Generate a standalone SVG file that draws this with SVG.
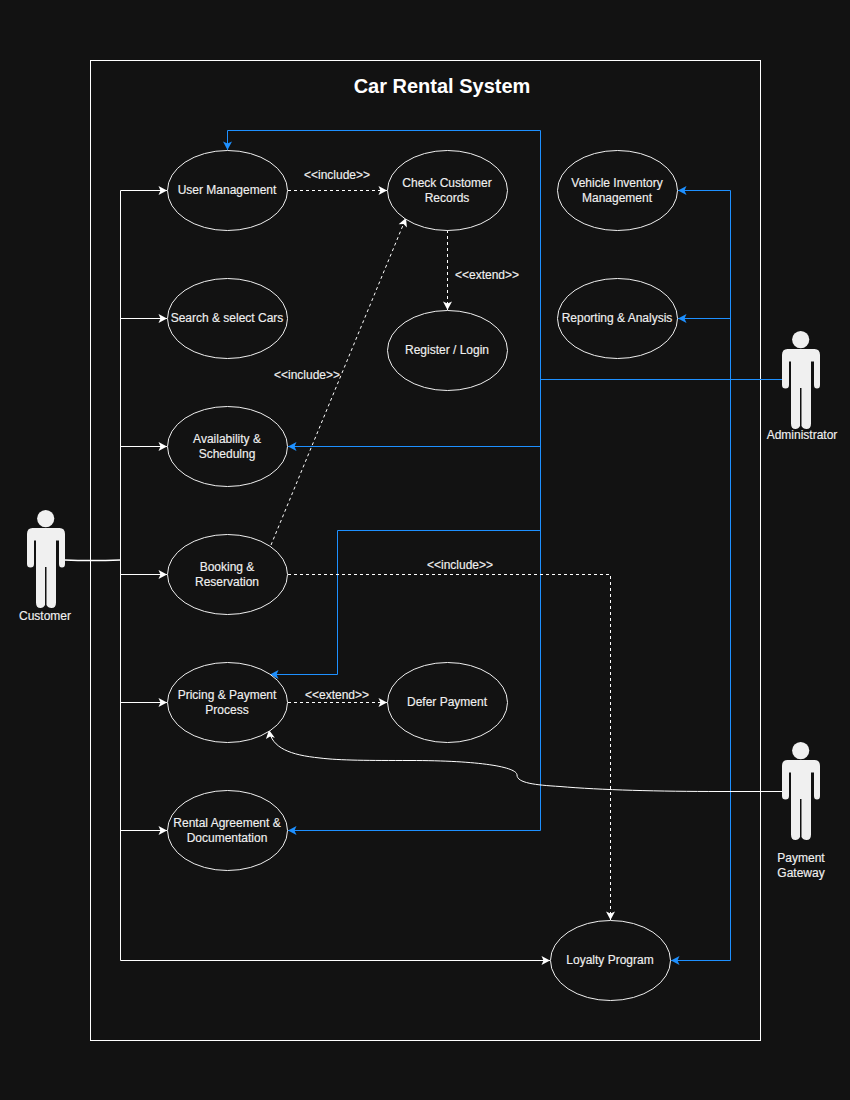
<svg xmlns="http://www.w3.org/2000/svg" width="850" height="1100" viewBox="0 0 850 1100">
<style>
text{font-family:"Liberation Sans",Arial,sans-serif;font-size:12px;fill:#f0f0f0;stroke:#f0f0f0;stroke-width:.15;text-anchor:middle}
.title{font-size:20px;font-weight:bold;fill:#fff;stroke:none}
.uc{fill:#121212;stroke:#f0f0f0;stroke-width:1}
.w{fill:none;stroke:#fff;stroke-width:1}
.b{fill:none;stroke:#1e90ff;stroke-width:1}
.d{fill:none;stroke:#fff;stroke-width:1;stroke-dasharray:3 3}
.aw{marker-end:url(#aw)}
.ab{marker-end:url(#ab)}
.actor{fill:#f0f0f0}
</style>
<defs>
<marker id="aw" markerUnits="userSpaceOnUse" markerWidth="11" markerHeight="11" refX="8.500" refY="5" orient="auto" overflow="visible"><path d="M0 .5 L8.500 5 L0 9.500 L2 5 Z" fill="#fff"/></marker>
<marker id="ab" markerUnits="userSpaceOnUse" markerWidth="11" markerHeight="11" refX="8.500" refY="5" orient="auto" overflow="visible"><path d="M0 .5 L8.500 5 L0 9.500 L2 5 Z" fill="#1e90ff"/></marker>
<g id="actor-shape">
<circle cx="18.7" cy="8.6" r="8.6"/>
<path d="M5.500 18H32.500Q38 18 38 24V54Q38 57.500 35 57.500Q32 57.500 32 54V30.500H29V92.500Q29 98 24.500 98Q21 98 19.500 95V57H18V95Q16.500 98 13.500 98Q9 98 9 92.500V30.500H7V54Q7 57.500 3.500 57.500Q0 57.500 0 54V24Q0 18 5.500 18Z"/>
</g>
</defs>
<rect width="850" height="1100" fill="#121212"/>
<g id="boundary">
<rect x="90.500" y="60.500" width="670" height="980" fill="none" stroke="#fff" stroke-width="1"/>
<text class="title" x="442" y="93">Car Rental System</text>
</g>
<g id="connectors">
<path class="w" d="M65 560Q90 561 120.500 560" style="stroke-width:1.500"/>
<path class="w" d="M120.500 190.500V960.500"/>
<path class="w aw" d="M120.500 190.500H167"/>
<path class="w aw" d="M120.500 318.500H167"/>
<path class="w aw" d="M120.500 446.500H167"/>
<path class="w aw" d="M120.500 574.500H167"/>
<path class="w aw" d="M120.500 702.500H167"/>
<path class="w aw" d="M120.500 830.500H167"/>
<path class="w aw" d="M120.500 960.500H550"/>
<path class="b" d="M782 379.500H540.500"/>
<path class="b" d="M540.500 130.500V830.500"/>
<path class="b ab" d="M540.500 130.500H227.500V150"/>
<path class="b ab" d="M540.500 446.500H288"/>
<path class="b ab" d="M540.500 530.500H337.500V674.500H270"/>
<path class="b ab" d="M540.500 830.500H288"/>
<path class="b" d="M730.500 379.500V190.500"/>
<path class="b ab" d="M730.500 190.500H678"/>
<path class="b ab" d="M730.500 318.500H678"/>
<path class="b ab" d="M730.500 379.500V960.500H671"/>
<path class="w aw" d="M782 791.500H720C660 791.500 600 790 560 786.500C535 785 517 783 517 775C517 767 480 760.500 410 760.500C370 760.500 340 760.500 320 758C290 755 272 748 269 730"/>
<path class="d aw" d="M288 190.500H387"/>
<path class="d aw" d="M447.500 230V310"/>
<path class="d aw" d="M271 545L406 218"/>
<path class="d aw" d="M288 574.500H610.500V920"/>
<path class="d aw" d="M288 702.500H387"/>
<text x="337" y="179">&lt;&lt;include&gt;&gt;</text>
<text x="487" y="279">&lt;&lt;extend&gt;&gt;</text>
<text x="307" y="379">&lt;&lt;include&gt;&gt;</text>
<text x="460" y="569">&lt;&lt;include&gt;&gt;</text>
<text x="337" y="699">&lt;&lt;extend&gt;&gt;</text>
</g>
<g id="user-management"><ellipse class="uc" cx="227.500" cy="190.500" rx="60" ry="40"/><text x="227" y="194">User Management</text></g>
<g id="check-customer"><ellipse class="uc" cx="447.500" cy="190.500" rx="60" ry="40"/><text x="447" y="187">Check Customer</text><text x="447" y="202">Records</text></g>
<g id="vehicle-inventory"><ellipse class="uc" cx="617.500" cy="190.500" rx="60" ry="40"/><text x="617" y="187">Vehicle Inventory</text><text x="617" y="202">Management</text></g>
<g id="search-cars"><ellipse class="uc" cx="227.500" cy="318.500" rx="60" ry="40"/><text x="227" y="322">Search &amp; select Cars</text></g>
<g id="register-login"><ellipse class="uc" cx="447.500" cy="350.500" rx="60" ry="40"/><text x="447" y="354">Register / Login</text></g>
<g id="reporting"><ellipse class="uc" cx="617.500" cy="318.500" rx="60" ry="40"/><text x="617" y="322">Reporting &amp; Analysis</text></g>
<g id="availability"><ellipse class="uc" cx="227.500" cy="446.500" rx="60" ry="40"/><text x="227" y="443">Availability &amp;</text><text x="227" y="458">Schedulng</text></g>
<g id="booking"><ellipse class="uc" cx="227.500" cy="574.500" rx="60" ry="40"/><text x="227" y="571">Booking &amp;</text><text x="227" y="586">Reservation</text></g>
<g id="pricing"><ellipse class="uc" cx="227.500" cy="702.500" rx="60" ry="40"/><text x="227" y="699">Pricing &amp; Payment</text><text x="227" y="714">Process</text></g>
<g id="defer-payment"><ellipse class="uc" cx="447.500" cy="702.500" rx="60" ry="40"/><text x="447" y="706">Defer Payment</text></g>
<g id="rental-agreement"><ellipse class="uc" cx="227.500" cy="830.500" rx="60" ry="40"/><text x="227" y="827">Rental Agreement &amp;</text><text x="227" y="842">Documentation</text></g>
<g id="loyalty"><ellipse class="uc" cx="610.500" cy="960.500" rx="60" ry="40"/><text x="610" y="964">Loyalty Program</text></g>
<g id="customer"><use href="#actor-shape" class="actor" x="27" y="510"/><text x="45" y="620">Customer</text></g>
<g id="administrator"><use href="#actor-shape" class="actor" x="782" y="331"/><text x="802" y="439">Administrator</text></g>
<g id="payment-gateway"><use href="#actor-shape" class="actor" x="782" y="742"/><text x="801" y="862">Payment</text><text x="801" y="877">Gateway</text></g>
</svg>
